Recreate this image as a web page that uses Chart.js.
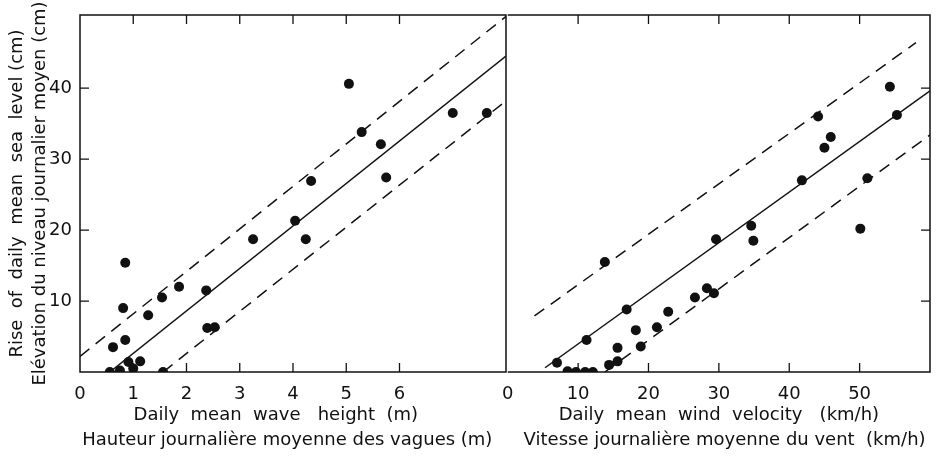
<!DOCTYPE html>
<html>
<head>
<meta charset="utf-8">
<script src="https://cdn.jsdelivr.net/npm/chart.js@4.4.1/dist/chart.umd.min.js"></script>
<style>
  html, body { margin: 0; padding: 0; background: #fff; }
  #wrap { position: relative; width: 951px; height: 456px; overflow: hidden; }
  #wrap canvas { position: absolute; top: 0; }
  #waveChart { left: 0; }
  #windChart { left: 490px; }
</style>
</head>
<body>
<div id="wrap">
  <canvas id="waveChart" width="512" height="456"></canvas>
  <canvas id="windChart" width="461" height="456"></canvas>
</div>
<script>
// left panel: daily mean wave height (m) / rise of sea level (cm)
const waveHeight = [0.56, 0.75, 0.62, 0.85, 0.81, 0.85, 0.91, 1.0, 1.13, 1.28, 1.54, 1.56, 1.86,
    2.37, 2.39, 2.53, 3.25, 4.04, 4.24, 4.34, 5.05, 5.29, 5.65, 5.75, 7.0, 7.64];
const waveRise = [0, 0.2, 3.5, 4.5, 9.0, 15.4, 1.4, 0.5, 1.5, 8.0, 10.5, 0, 12.0,
    11.5, 6.2, 6.3, 18.7, 21.3, 18.7, 26.9, 40.6, 33.8, 32.1, 27.4, 36.5, 36.5];

// right panel: daily mean wind velocity (km/h) / rise of sea level (cm)
const windSpeed = [7.0, 8.5, 9.7, 11.0, 12.1, 11.2, 13.8, 14.4, 15.6, 15.6, 16.9, 18.2, 18.9, 21.2,
    22.8, 26.6, 28.3, 29.3, 29.6, 34.6, 34.9, 41.8, 44.1, 45.0, 45.9, 50.1, 51.1, 54.3, 55.3];
const windRise = [1.3, 0.1, 0, 0, 0, 4.5, 15.5, 1.0, 1.5, 3.4, 8.8, 5.9, 3.6, 6.3,
    8.5, 10.5, 11.8, 11.1, 18.7, 20.6, 18.5, 27.0, 36.0, 31.6, 33.1, 20.2, 27.3, 40.2, 36.2];

// regression line and the two dashed limits, as end points
const waveFitX = [0.56, 8], waveFitY = [0, 44.5];
const waveUpX = [0, 8], waveUpY = [2.2, 50.1];
const waveLowX = [1.56, 8], waveLowY = [0, 38.2];
const windFitX = [5.3, 60], windFitY = [0.6, 39.6];
const windUpX = [3.8, 58], windUpY = [7.9, 46.4];
const windLowX = [13.8, 60], windLowY = [0, 33.4];

// tick labels
const waveTicks = [0, 1, 2, 3, 4, 5, 6];
const windTicks = [0, 10, 20, 30, 40, 50];
const riseTicks = [10, 20, 30, 40];

const ink = '#111';
const family = '"DejaVu Sans", sans-serif';

function points(xs, ys) {
    return xs.map((x, i) => ({x: x, y: ys[i]}));
}

function lineSet(xs, ys, dashed) {
    return {
        type: 'line',
        data: points(xs, ys),
        borderColor: ink,
        borderWidth: 1.5,
        borderDash: dashed ? [12, 8] : [],
        pointRadius: 0,
        fill: false,
    };
}

// box around the plot and small inward tick marks
const frame = {
    id: 'frame',
    afterDatasetsDraw(chart, args, opts) {
        const ctx = chart.ctx, a = chart.chartArea,
            x = chart.scales.x, y = chart.scales.y;
        ctx.save();
        ctx.strokeStyle = ink;
        ctx.lineWidth = 1.5;
        ctx.beginPath();
        // the shared middle edge is drawn by the left panel only
        if (opts.side === 'left') {
            ctx.moveTo(a.right, a.top); ctx.lineTo(a.left, a.top);
            ctx.lineTo(a.left, a.bottom); ctx.lineTo(a.right, a.bottom);
            ctx.closePath();
        } else {
            ctx.moveTo(a.left, a.top); ctx.lineTo(a.right, a.top);
            ctx.lineTo(a.right, a.bottom); ctx.lineTo(a.left, a.bottom);
        }
        ctx.stroke();
        ctx.lineWidth = 1.3;
        ctx.beginPath();
        x.ticks.forEach(t => {
            if (t.value === 0) {return;}
            const px = x.getPixelForValue(t.value);
            ctx.moveTo(px, a.bottom); ctx.lineTo(px, a.bottom - 9);
            ctx.moveTo(px, a.top); ctx.lineTo(px, a.top + 9);
        });
        riseTicks.forEach(v => {
            const py = y.getPixelForValue(v);
            if (opts.side === 'left') {
                ctx.moveTo(a.left, py); ctx.lineTo(a.left + 9, py);
            } else {
                ctx.moveTo(a.right, py); ctx.lineTo(a.right - 9, py);
            }
        });
        ctx.stroke();
        ctx.restore();
    },
};

function makeChart(id, p) {
    const showY = p.side === 'left';
    return new Chart(document.getElementById(id), {
        type: 'scatter',
        data: {
            datasets: [
                {
                    data: points(p.xs, p.ys),
                    backgroundColor: ink,
                    borderWidth: 0,
                    pointRadius: 5,
                },
                lineSet(p.fitX, p.fitY, false),
                lineSet(p.upX, p.upY, true),
                lineSet(p.lowX, p.lowY, true),
            ],
        },
        options: {
            responsive: false,
            animation: false,
            layout: {padding: p.padding},
            plugins: {
                legend: {display: false},
                tooltip: {enabled: false},
                frame: {side: p.side},
            },
            scales: {
                x: {
                    type: 'linear',
                    min: 0,
                    max: p.xMax,
                    afterBuildTicks: s => { s.ticks = p.ticks.map(v => ({value: v})); },
                    afterFit: s => { s.height = 84; },
                    grid: {display: false, drawTicks: false},
                    border: {display: false},
                    ticks: {color: ink, padding: 12, font: {family: family, size: 18}},
                    title: {
                        display: true,
                        text: p.title,
                        color: ink,
                        padding: {top: 0, bottom: 3},
                        font: {family: family, size: 18, lineHeight: 1.4},
                    },
                },
                y: {
                    type: 'linear',
                    min: 0,
                    max: 50.3,
                    display: showY,
                    afterBuildTicks: s => { s.ticks = riseTicks.map(v => ({value: v})); },
                    afterFit: s => {
                        if (!showY) {return;}
                        s.width = 80;
                        s.paddingTop = 0;
                        s.paddingBottom = 0;
                    },
                    grid: {display: false, drawTicks: false},
                    border: {display: false},
                    ticks: {color: ink, padding: 8, font: {family: family, size: 18}},
                    title: {
                        display: true,
                        text: ['Rise  of  daily  mean  sea  level (cm)', 'Elévation du niveau journalier moyen (cm)'],
                        color: ink,
                        padding: {top: 6, bottom: 0},
                        font: {family: family, size: 18, lineHeight: 1.28},
                    },
                },
            },
        },
        plugins: [frame],
    });
}

makeChart('waveChart', {
    side: 'left',
    xs: waveHeight, ys: waveRise,
    fitX: waveFitX, fitY: waveFitY,
    upX: waveUpX, upY: waveUpY,
    lowX: waveLowX, lowY: waveLowY,
    xMax: 8,
    ticks: waveTicks,
    title: ['Daily  mean  wave   height  (m)      ', 'Hauteur journalière moyenne des vagues (m)  '],
    padding: {top: 15, right: 6, bottom: 0, left: 0},
});

makeChart('windChart', {
    side: 'right',
    xs: windSpeed, ys: windRise,
    fitX: windFitX, fitY: windFitY,
    upX: windUpX, upY: windUpY,
    lowX: windLowX, lowY: windLowY,
    xMax: 60,
    ticks: windTicks,
    title: ['Daily  mean  wind  velocity   (km/h)', '  Vitesse journalière moyenne du vent  (km/h)'],
    padding: {top: 15, right: 21, bottom: 0, left: 16},
});
</script>
</body>
</html>
